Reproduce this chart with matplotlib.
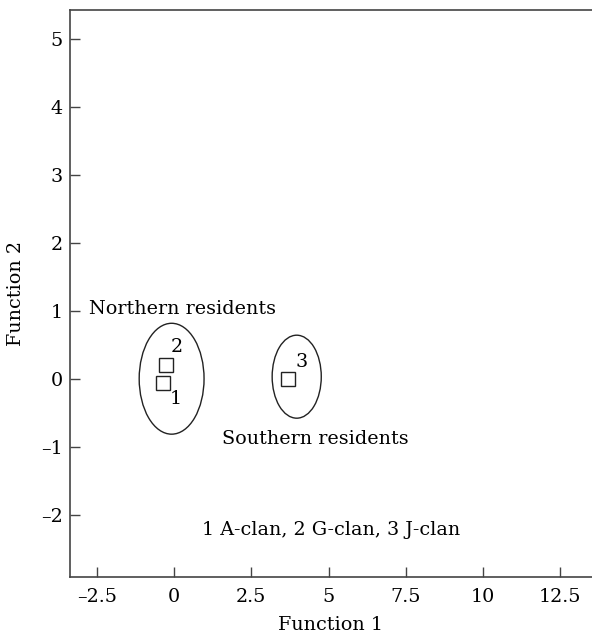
import numpy as np
import matplotlib
matplotlib.use('Agg')
import matplotlib.pyplot as plt
from matplotlib.patches import Ellipse

plt.rcParams['font.family'] = ['DejaVu Serif']

# clan centroids (Function 1, Function 2)
clans = ['1', '2', '3']
f1 = [-0.37, -0.27, 3.69]
f2 = [-0.06, 0.20, 0.00]
label_x = [0.06, 0.09, 4.13]
label_y = [-0.30, 0.47, 0.25]

# community ellipses: centre x, centre y, width, height
groups = ['Northern residents', 'Southern residents']
ell_x = [-0.08, 3.97]
ell_y = [0.0, 0.03]
ell_w = [2.1, 1.59]
ell_h = [1.63, 1.22]
group_tx = [-2.77, 1.56]
group_ty = [1.02, -0.89]

xticks = [-2.5, 0, 2.5, 5, 7.5, 10, 12.5]
yticks = [-2, -1, 0, 1, 2, 3, 4, 5]

fs = 13.8
fig = plt.figure(figsize=(5.92, 6.36), dpi=100)
ax = fig.add_axes([70/592, 1-576.7/636, 1-70/592, (576.7-10)/636])

ax.plot(f1, f2, 's', ms=10, mfc='white', mec='#222222', mew=1.0, ls='none')
for t, x, y in zip(clans, label_x, label_y):
    ax.text(x, y, t, fontsize=fs, ha='center', va='center')

for x, y, w, h in zip(ell_x, ell_y, ell_w, ell_h):
    ax.add_patch(Ellipse((x, y), w, h, fill=False, ec='#222222', lw=1.0))

for g, x, y in zip(groups, group_tx, group_ty):
    ax.text(x, y, g, fontsize=fs, ha='left', va='center')

ax.text(0.90, -2.22, '1 A-clan, 2 G-clan, 3 J-clan', fontsize=fs, ha='left', va='center')

ax.set_xlim(-3.37, 13.53)
ax.set_ylim(-2.91, 5.42)
ax.set_xticks(xticks)
ax.set_xticklabels([f'{v:g}'.replace('-', '\u2013') for v in xticks])
ax.set_yticks(yticks)
ax.set_yticklabels([f'{v:g}'.replace('-', '\u2013') for v in yticks])
ax.tick_params(direction='in', length=7, width=1, color='#444444', labelsize=fs)
ax.tick_params(axis='x', pad=8)
ax.tick_params(axis='y', pad=5)
ax.spines['right'].set_visible(False)
for s in ['left', 'bottom', 'top']:
    ax.spines[s].set_color('#444444')
    ax.spines[s].set_linewidth(1.2)

ax.set_xlabel('Function 1', fontsize=fs, labelpad=7)
ax.set_ylabel('Function 2', fontsize=fs, labelpad=12)

fig.savefig('out.png', dpi=100)
